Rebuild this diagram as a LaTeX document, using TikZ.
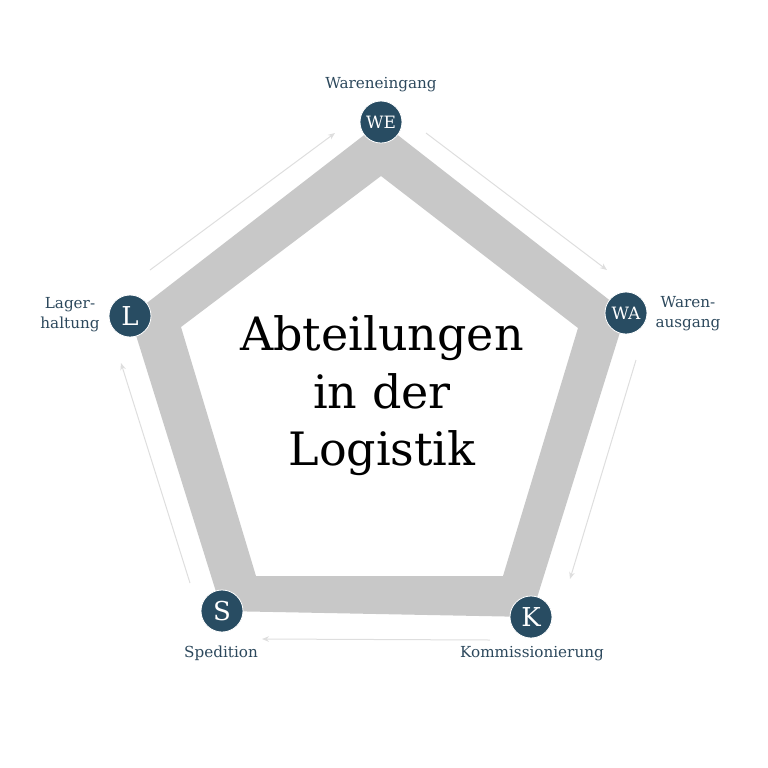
\documentclass[tikz,border=0pt]{standalone}
\usepackage{fontspec}
\setmainfont{DejaVu Serif}
\usetikzlibrary{arrows.meta}
\definecolor{bandgray}{RGB}{200,200,200}
\definecolor{navy}{RGB}{40,76,98}
\definecolor{labelcol}{RGB}{44,72,92}
\definecolor{arrowgray}{RGB}{222,222,222}
\tikzset{
  stage/.style={circle,fill=navy,draw=white,line width=0.4pt,minimum size=21pt,inner sep=0pt,text=white,font=\fontsize{8.5}{10}\selectfont},
  bigstage/.style={stage,font=\fontsize{13}{15}\selectfont},
  lbl/.style={text=labelcol,font=\fontsize{7.6}{10}\selectfont,align=center,inner sep=0pt},
  flow/.style={draw=arrowgray,line width=0.5pt,-{Stealth[length=3.5pt,width=2.8pt]}},
}
\begin{document}
\begin{tikzpicture}[x=0.5pt,y=-0.5pt]
\useasboundingbox (0,0) rectangle (768,768);
% outer vertices
\coordinate (pWE) at (381,122);
\coordinate (pWA) at (626,313);
\coordinate (pK) at (531,617);
\coordinate (pS) at (222,611);
\coordinate (pL) at (130,316);
% inner vertices
\coordinate (iT) at (381,176);
\coordinate (iR) at (578,328);
\coordinate (iBR) at (503,576);
\coordinate (iBL) at (256,576);
\coordinate (iL) at (181,327);
\fill[bandgray,even odd rule] (pWE) -- (pWA) -- (pK) -- (pS) -- (pL) -- cycle
  (iT) -- (iR) -- (iBR) -- (iBL) -- (iL) -- cycle;
% arrows
\coordinate (a1s) at (426,133); \coordinate (a1e) at (607,270);
\coordinate (a2s) at (636,360); \coordinate (a2e) at (570,579);
\coordinate (a3s) at (490,640); \coordinate (a3e) at (262,639);
\coordinate (a4s) at (190,583); \coordinate (a4e) at (121,363);
\coordinate (a5s) at (150,270); \coordinate (a5e) at (335,133);
\draw[flow] (a1s) -- (a1e);
\draw[flow] (a2s) -- (a2e);
\draw[flow] (a3s) -- (a3e);
\draw[flow] (a4s) -- (a4e);
\draw[flow] (a5s) -- (a5e);
% stage circles
\node[stage] (WE) at (pWE) {WE};
\node[stage] (WA) at (pWA) {WA};
\node[bigstage] (K) at (pK) {K};
\node[bigstage] (S) at (pS) {S};
\node[bigstage] (L) at (pL) {L};
% labels
\node[lbl] (lWE) at (381,85) {Wareneingang};
\node[lbl] (lWA) at (688,314) {Waren-\\ausgang};
\node[lbl] (lK) at (532,654) {Kommissionierung};
\node[lbl] (lS) at (221,653) {Spedition};
\node[lbl] (lL) at (70,315) {Lager-\\haltung};
% title
\node[align=center,inner sep=0pt,font=\fontsize{23}{28.7}\selectfont] (title) at (382,396) {Abteilungen\\in der\\Logistik};
\end{tikzpicture}
\end{document}
